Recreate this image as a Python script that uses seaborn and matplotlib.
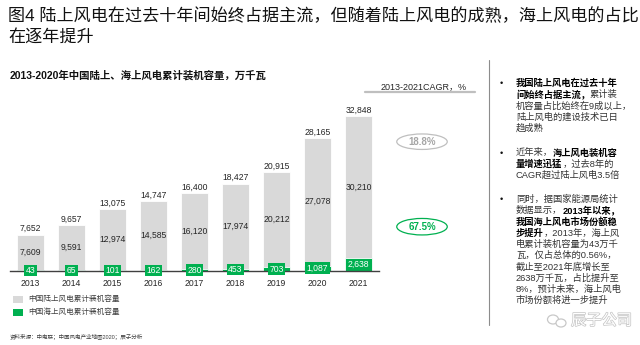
import matplotlib
matplotlib.use('Agg')
import matplotlib.pyplot as plt
import seaborn as sns
import pandas as pd
from matplotlib.patches import Ellipse, Rectangle
from matplotlib.lines import Line2D
import matplotlib.patheffects as pe

# ---------------- data ----------------
years = ['2013', '2014', '2015', '2016', '2017', '2018', '2019', '2020', '2021']
onshore = [7609, 9591, 12974, 14585, 16120, 17974, 20212, 27078, 30210]
offshore = [43, 65, 101, 162, 280, 453, 703, 1087, 2638]
totals = [7652, 9657, 13075, 14747, 16400, 18427, 20915, 28165, 32848]
cagr_on = '18.8%'
cagr_off = '67.5%'

title_lines = ['图4 陆上风电在过去十年间始终占据主流，但随着陆上风电的成熟，海上风电的占比',
               '在逐年提升']
subtitle = '2013-2020年中国陆上、海上风电累计装机容量，万千瓦'
cagr_header = '2013-2021CAGR，%'
legend_labels = ['中国陆上风电累计装机容量', '中国海上风电累计装机容量']
source = '资料来源：中电联；中国风电产业地图2020；辰子分析'
watermark = '辰子公司'

bullets = [
    [[('我国陆上风电在过去十年', True)],
     [('间始终占据主流，', True), ('累计装', False)],
     [('机容量占比始终在9成以上，', False)],
     [('陆上风电的建设技术已日', False)],
     [('趋成熟', False)]],
    [[('近年来，', False), ('海上风电装机容', True)],
     [('量增速迅猛', True), ('，过去8年的', False)],
     [('CAGR超过陆上风电3.5倍', False)]],
    [[('同时，据国家能源局统计', False)],
     [('数据显示，', False), ('2013年以来，', True)],
     [('我国海上风电市场份额稳', True)],
     [('步提升', True), ('，2013年，海上风', False)],
     [('电累计装机容量为43万千', False)],
     [('瓦，仅占总体的0.56%，', False)],
     [('截止至2021年底增长至', False)],
     [('2638万千瓦，占比提升至', False)],
     [('8%，预计未来，海上风电', False)],
     [('市场份额将进一步提升', False)]],
]

# ---------------- style ----------------
GREY = '#D9D9D9'
GREEN = '#00B050'
TXT = '#262626'
sns.set_theme(style='white')
plt.rcParams['font.family'] = ['Liberation Sans', 'Noto Sans CJK SC', 'DejaVu Sans']

W, H = 640, 345
fig = plt.figure(figsize=(6.4, 3.45), dpi=100)

def fx(px):
    return px / W

def fy(py):
    return 1 - py / H

# axes geometry
base_px = 270.7
px_per_unit = 0.00471
ytop = 37000
ax = fig.add_axes([fx(10), fy(base_px), fx(379) - fx(10), ytop * px_per_unit / H])

df = pd.DataFrame({'year': years, 'total': totals, 'offshore': offshore, 'onshore': onshore})
sns.barplot(data=df, x='year', y='total', color=GREY, saturation=1, width=0.65,
            errorbar=None, edgecolor='white', linewidth=0.6, ax=ax, zorder=1)
sns.barplot(data=df, x='year', y='offshore', color=GREEN, saturation=1, width=0.65,
            errorbar=None, edgecolor='white', linewidth=0.6, ax=ax, zorder=2)

ax.set_xlim(-0.5, 8.5)
ax.set_ylim(0, ytop)
ax.set_xlabel('')
ax.set_ylabel('')
ax.set_yticks([])
for s in ['top', 'right', 'left']:
    ax.spines[s].set_visible(False)
ax.spines['bottom'].set_color('#404040')
ax.spines['bottom'].set_linewidth(1.0)
ax.spines['bottom'].set_zorder(2.5)
ax.tick_params(axis='x', length=0, pad=6, labelsize=6.2, labelcolor=TXT)

for i in range(len(years)):
    t, off, on = totals[i], offshore[i], onshore[i]
    ax.text(i, t + 1300, f'{t:,}', ha='center', va='center', fontsize=6.2, color=TXT)
    ax.text(i, (off + t) / 2, f'{on:,}', ha='center', va='center', fontsize=6.2, color=TXT)
    ax.text(i, off / 2, f'{off:,}', ha='center', va='center', fontsize=6.2, color='white',
            zorder=4,
            bbox=dict(boxstyle='square,pad=0.15', facecolor=GREEN, edgecolor='none'))

# ---------------- titles ----------------
fig.text(fx(8), fy(16), title_lines[0], fontsize=12.3, color='#111111', ha='left', va='center')
fig.text(fx(8), fy(37), title_lines[1], fontsize=12.3, color='#111111', ha='left', va='center')
fig.text(fx(10), fy(75), subtitle, fontsize=7.5, fontweight='bold', color='#111111',
         ha='left', va='center')

# CAGR header
fig.text(fx(467), fy(86.5), cagr_header, fontsize=6.5, color=TXT, ha='right', va='center')
fig.add_artist(Line2D([fx(365), fx(475)], [fy(92)] * 2, color='#BFBFBF', lw=1.6))

# CAGR ellipses
fig.add_artist(Ellipse((fx(422), fy(141.7)), fx(50.5), 15.5 / H, transform=fig.transFigure,
                       fill=False, edgecolor='#BFBFBF', lw=0.9))
fig.text(fx(422), fy(141.7), cagr_on, fontsize=7, fontweight='bold', color='#A6A6A6',
         ha='center', va='center')
fig.add_artist(Ellipse((fx(422), fy(226.7)), fx(50.5), 16.5 / H, transform=fig.transFigure,
                       fill=False, edgecolor=GREEN, lw=0.9))
fig.text(fx(422), fy(226.7), cagr_off, fontsize=7, fontweight='bold', color=GREEN,
         ha='center', va='center')

# legend
leg_cols = [GREY, GREEN]
leg_y = [299.5, 312.5]
for c, yy, lab in zip(leg_cols, leg_y, legend_labels):
    fig.add_artist(Rectangle((fx(12.5), fy(yy + 3.8)), fx(10.5), 7.6 / H,
                             transform=fig.transFigure, facecolor=c, edgecolor='none'))
    fig.text(fx(28), fy(yy), lab, fontsize=5.5, color='#404040', ha='left', va='center')

# source
fig.text(fx(10), fy(337), source, fontsize=4, color='#404040', ha='left', va='center')

# divider
fig.add_artist(Line2D([fx(489)] * 2, [fy(60), fy(325)], color='#8C8C8C', lw=0.8))

# bullets
renderer = fig.canvas.get_renderer()
starts = [83.5, 153.0, 199.3]
spacing = 11.25
for b, y0 in zip(bullets, starts):
    fig.text(fx(501.5), fy(y0), '•', fontsize=6.5, color='#111111', ha='center', va='center')
    for li, segs in enumerate(b):
        x = 516.0
        y = y0 + li * spacing
        for txt, bold in segs:
            t = fig.text(fx(x), fy(y), txt, fontsize=6.7, ha='left', va='center',
                         fontweight='bold' if bold else 'normal',
                         color='#000000' if bold else '#333333')
            bb = t.get_window_extent(renderer)
            x += bb.width

# watermark
fig.add_artist(Ellipse((fx(553), fy(319.5)), fx(11), 9 / H, transform=fig.transFigure,
                       fill=False, edgecolor='#C8C8C8', lw=0.9))
fig.add_artist(Ellipse((fx(561), fy(323)), fx(10), 8 / H, transform=fig.transFigure,
                       facecolor='white', edgecolor='#C8C8C8', lw=0.9))
fig.text(fx(571), fy(321), watermark, fontsize=11, color='white', ha='left', va='center',
         path_effects=[pe.withStroke(linewidth=1.0, foreground='#C4C4C4')])

fig.savefig('out.png', dpi=100)
